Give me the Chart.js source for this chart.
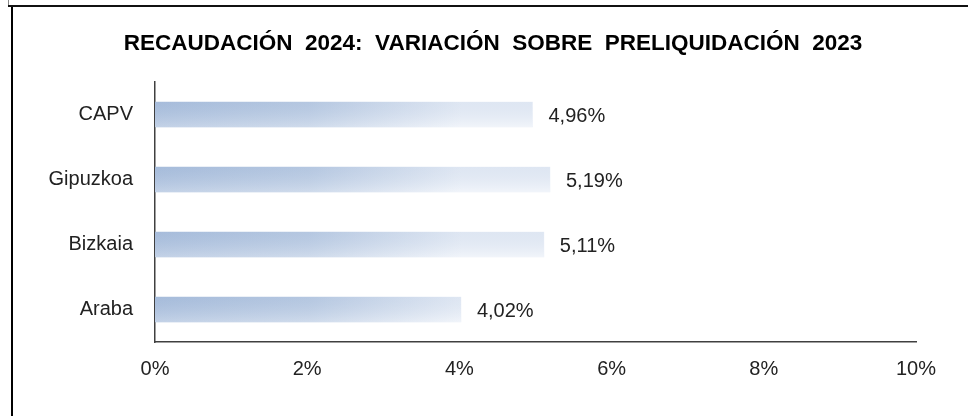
<!DOCTYPE html>
<html>
<head>
<meta charset="utf-8">
<script src="https://cdn.jsdelivr.net/npm/chart.js@4"></script>
<style>
  html, body { margin: 0; padding: 0; background: #fff; }
  #wrap { position: relative; width: 968px; height: 416px; overflow: hidden; }
  #frameTop { position: absolute; left: 8px; top: 5px; width: 960px; height: 2px; background: #111; }
  #frameTick { position: absolute; left: 8px; top: 0; width: 1px; height: 6px; background: #888; }
  #frameLeft { position: absolute; left: 11px; top: 7px; width: 2px; height: 409px; background: #000; }
  canvas { position: absolute; left: 0; top: 0; }
</style>
</head>
<body>
<div id="wrap">
  <canvas id="c" width="968" height="416"></canvas>
  <div id="frameTick"></div>
  <div id="frameTop"></div>
  <div id="frameLeft"></div>
</div>
<script>
const title = 'RECAUDACIÓN  2024:  VARIACIÓN  SOBRE  PRELIQUIDACIÓN  2023';
const categories = ['CAPV', 'Gipuzkoa', 'Bizkaia', 'Araba'];
const variacion = [4.96, 5.19, 5.11, 4.02];
const tickValues = [0, 2, 4, 6, 8, 10];

const fontFamily = '"Liberation Sans", Arial, sans-serif';
const fmt = v => v.toFixed(2).replace('.', ',') + '%';

// degradado por barra, como en la hoja de cálculo
const gradientBars = {
  id: 'gradientBars',
  beforeDatasetsDraw(chart) {
    const ctx = chart.ctx;
    chart.getDatasetMeta(0).data.forEach(bar => {
      const g = ctx.createLinearGradient(bar.base, 0, bar.x, 0);
      g.addColorStop(0, '#a9bedc');
      g.addColorStop(0.5, '#bacbe3');
      g.addColorStop(1, '#ebf0f8');
      bar.options.backgroundColor = g;
    });
  },
  afterDatasetsDraw(chart) {
    const ctx = chart.ctx;
    const meta = chart.getDatasetMeta(0);
    ctx.save();
    meta.data.forEach(bar => {
      const h = bar.height;
      const top = bar.y - h / 2;
      const g = ctx.createLinearGradient(0, top, 0, top + h);
      g.addColorStop(0, 'rgba(150,175,210,0.15)');
      g.addColorStop(1, 'rgba(255,255,255,0.3)');
      ctx.fillStyle = g;
      ctx.fillRect(bar.base, top, bar.x - bar.base, h);
    });
    // etiquetas de valor
    ctx.font = '20px ' + fontFamily;
    ctx.fillStyle = '#222';
    ctx.textAlign = 'left';
    ctx.textBaseline = 'middle';
    meta.data.forEach((bar, i) => {
      ctx.fillText(fmt(variacion[i]), bar.x + 16, bar.y + 2);
    });
    ctx.restore();
  }
};

const titlePlugin = {
  id: 'titlePlugin',
  afterDraw(chart) {
    const ctx = chart.ctx;
    ctx.save();
    ctx.font = 'bold 22.5px ' + fontFamily;
    ctx.fillStyle = '#000';
    ctx.textAlign = 'center';
    ctx.textBaseline = 'middle';
    ctx.fillText(title, 493, 44);
    ctx.restore();
  }
};

new Chart(document.getElementById('c'), {
  type: 'bar',
  data: {
    labels: categories,
    datasets: [{
      data: variacion,
      backgroundColor: '#bccde4',
      borderWidth: 0,
      barThickness: 25
    }]
  },
  options: {
    indexAxis: 'y',
    responsive: false,
    animation: false,
    layout: { padding: { top: 82, left: 0, right: 52, bottom: 0 } },
    plugins: {
      legend: { display: false },
      tooltip: { enabled: false },
      title: { display: false }
    },
    scales: {
      x: {
        min: 0,
        max: 10,
        afterBuildTicks: s => { s.ticks = tickValues.map(v => ({ value: v })); },
        afterFit: s => { s.height = 74; },
        grid: { display: false, drawOnChartArea: false, drawTicks: true, tickLength: 6, tickColor: '#404040' },
        border: { display: true, color: '#404040', width: 1.5 },
        ticks: {
          padding: 9,
          color: '#222',
          font: { family: fontFamily, size: 20 },
          callback: v => v + '%'
        }
      },
      y: {
        afterFit: s => { s.width = 155; },
        grid: { display: false, drawTicks: false },
        border: { display: true, color: '#404040', width: 1.5 },
        ticks: {
          padding: 22,
          color: '#222',
          font: { family: fontFamily, size: 20 }
        }
      }
    }
  },
  plugins: [gradientBars, titlePlugin]
});
</script>
</body>
</html>
